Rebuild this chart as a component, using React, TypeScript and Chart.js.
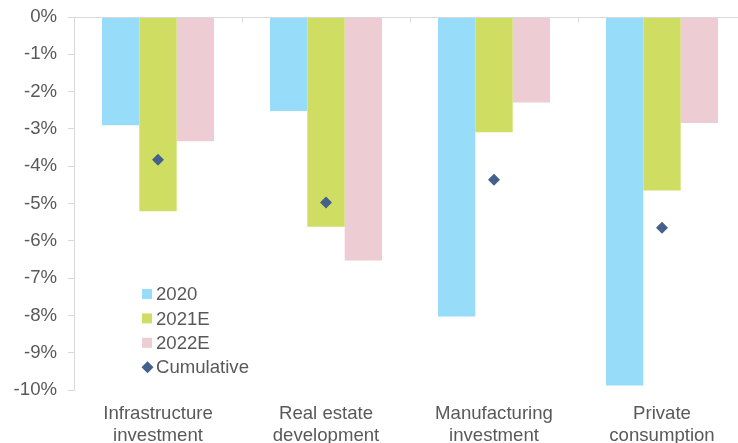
import React, { useEffect, useRef } from "react";
import { Chart, registerables } from "chart.js";

Chart.register(...registerables);

const categories: string[][] = [
  ["Infrastructure", "investment"],
  ["Real estate", "development"],
  ["Manufacturing", "investment"],
  ["Private", "consumption"],
];
const values2020 = [-2.9, -2.52, -8.03, -9.88];
const values2021E = [-5.21, -5.62, -3.09, -4.65];
const values2022E = [-3.33, -6.53, -2.29, -2.84];
const cumulative = [-3.83, -4.97, -4.36, -5.65];
const yTicks = [0, -1, -2, -3, -4, -5, -6, -7, -8, -9, -10];

const TEXT = "#595959";
const AXIS = "#D9D9D9";
const FONT = "Liberation Sans, Arial, sans-serif";
const FSIZE = 18.6;

const topAxisPlugin = {
  id: "topAxis",
  afterDatasetsDraw(chart: any) {
    const { ctx, chartArea, scales } = chart;
    const x = scales.x;
    const y = scales.y;
    const y0 = Math.round(y.getPixelForValue(0)) + 0.5;
    ctx.save();
    ctx.strokeStyle = AXIS;
    ctx.lineWidth = 1;
    ctx.beginPath();
    ctx.moveTo(chartArea.left - 6, y0);
    ctx.lineTo(chartArea.right, y0);
    for (let i = 1; i < categories.length; i++) {
      const px = Math.round(x.getPixelForValue(i - 0.5)) + 0.5;
      ctx.moveTo(px, y0);
      ctx.lineTo(px, y0 + 5);
    }
    ctx.stroke();
    ctx.restore();
  },
};

const legendPlugin = {
  id: "insideLegend",
  afterDraw(chart: any) {
    const { ctx } = chart;
    const left = 142;
    const startY = 294;
    const step = 24.4;
    ctx.save();
    ctx.font = `${FSIZE}px ${FONT}`;
    ctx.textBaseline = "middle";
    ctx.textAlign = "left";
    chart.data.datasets.forEach((ds: any, i: number) => {
      const cy = startY + i * step;
      ctx.fillStyle = ds.backgroundColor;
      if (ds.type === "line") {
        ctx.beginPath();
        ctx.moveTo(left + 5.5, cy - 6);
        ctx.lineTo(left + 11.5, cy);
        ctx.lineTo(left + 5.5, cy + 6);
        ctx.lineTo(left - 0.5, cy);
        ctx.closePath();
        ctx.fill();
      } else {
        ctx.fillRect(left, cy - 5, 10, 10);
      }
      ctx.fillStyle = TEXT;
      ctx.fillText(ds.label, left + 14, cy + 1);
    });
    ctx.restore();
  },
};

export default function App() {
  const ref = useRef<HTMLCanvasElement | null>(null);

  useEffect(() => {
    if (!ref.current) return;
    const chart = new Chart(ref.current, {
      type: "bar",
      data: {
        labels: categories,
        datasets: [
          {
            label: "2020",
            data: values2020,
            backgroundColor: "#97DCF8",
            borderWidth: 0,
            order: 1,
          },
          {
            label: "2021E",
            data: values2021E,
            backgroundColor: "#CFDE63",
            borderWidth: 0,
            order: 1,
          },
          {
            label: "2022E",
            data: values2022E,
            backgroundColor: "#EDCCD4",
            borderWidth: 0,
            order: 1,
          },
          {
            type: "line",
            label: "Cumulative",
            data: cumulative,
            showLine: false,
            backgroundColor: "#44618C",
            borderColor: "#44618C",
            pointStyle: "rectRot",
            pointRadius: 6,
            pointBorderWidth: 0,
            order: 0,
          } as any,
        ],
      },
      options: {
        animation: false,
        responsive: false,
        maintainAspectRatio: false,
        layout: { padding: { top: 17, right: 0, left: 0, bottom: 0 } },
        plugins: {
          legend: { display: false },
          tooltip: { enabled: false },
        },
        datasets: {
          bar: { categoryPercentage: 0.667, barPercentage: 1, grouped: true },
        },
        scales: {
          x: {
            grid: { display: false },
            border: { display: false },
            ticks: {
              color: TEXT,
              font: { family: FONT, size: FSIZE, lineHeight: 1.18 },
              padding: 5,
              maxRotation: 0,
              autoSkip: false,
            },
            afterFit(scale: any) {
              scale.height = 53;
            },
          },
          y: {
            min: -10,
            max: 0,
            afterBuildTicks(scale: any) {
              scale.ticks = yTicks.map((v) => ({ value: v }));
            },
            grid: {
              display: true,
              drawOnChartArea: false,
              drawTicks: true,
              tickLength: 6,
              color: AXIS,
            },
            border: { display: true, color: AXIS },
            ticks: {
              color: TEXT,
              font: { family: FONT, size: FSIZE },
              padding: 11,
              callback: (v: any) => `${v}%`,
            },
            afterFit(scale: any) {
              scale.width = 74;
              scale.paddingTop = 0;
              scale.paddingBottom = 0;
            },
          },
        },
      },
      plugins: [topAxisPlugin, legendPlugin],
    });
    return () => chart.destroy();
  }, []);

  return (
    <div
      style={{
        position: "fixed",
        left: 0,
        top: 0,
        width: 738,
        height: 443,
        overflow: "hidden",
        background: "#fff",
      }}
    >
      <canvas ref={ref} width={752} height={443} style={{ display: "block" }} />
    </div>
  );
}
